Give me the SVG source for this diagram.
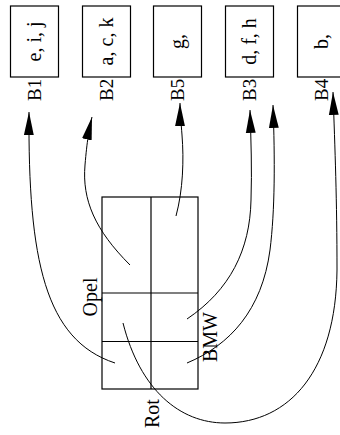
<svg xmlns="http://www.w3.org/2000/svg" width="340" height="435" viewBox="0 0 340 435">
<style>
  .box { fill: #fff; stroke: #000; stroke-width: 1.2; }
  .grid { fill: none; stroke: #000; stroke-width: 1.2; }
  .t { font-family: "Liberation Serif", "Times New Roman", serif; font-size: 20px; fill: #000; }
  .lbl { font-family: "Liberation Serif", "Times New Roman", serif; font-size: 19px; fill: #000; }
  .c { fill: none; stroke: #000; stroke-width: 1; }
</style>
<defs>
  <marker id="ah" markerUnits="userSpaceOnUse" markerWidth="24" markerHeight="12" viewBox="-21 -5 22 10" refX="0" refY="0" orient="auto">
    <path d="M0,0 L-21,-4.5 L-21,4.5 Z" fill="#000"/>
  </marker>
</defs>
<rect width="340" height="435" fill="#fff"/>

<g id="B1">
  <rect class="box" x="10.5" y="6" width="48" height="71"/>
  <text class="t" transform="translate(40.5,41.5) rotate(-90)" text-anchor="middle">e, i, j</text>
  <text class="lbl" transform="translate(40.5,101) rotate(-90)">B1</text>
</g>
<g id="B2">
  <rect class="box" x="82.5" y="6" width="48" height="71"/>
  <text class="t" transform="translate(112.5,41.5) rotate(-90)" text-anchor="middle">a, c, k</text>
  <text class="lbl" transform="translate(112.5,101) rotate(-90)">B2</text>
</g>
<g id="B5">
  <rect class="box" x="153.5" y="6" width="48" height="71"/>
  <text class="t" transform="translate(183.5,41.5) rotate(-90)" text-anchor="middle">g,</text>
  <text class="lbl" transform="translate(183.5,101) rotate(-90)">B5</text>
</g>
<g id="B3">
  <rect class="box" x="225.5" y="6" width="48" height="71"/>
  <text class="t" transform="translate(255.5,41.5) rotate(-90)" text-anchor="middle">d, f, h</text>
  <text class="lbl" transform="translate(255.5,101) rotate(-90)">B3</text>
</g>
<g id="B4">
  <rect class="box" x="297.5" y="6" width="48" height="71"/>
  <text class="t" transform="translate(327.5,41.5) rotate(-90)" text-anchor="middle">b,</text>
  <text class="lbl" transform="translate(327.5,101) rotate(-90)">B4</text>
</g>

<g id="table">
  <rect class="grid" x="102" y="197" width="96" height="192"/>
  <line class="grid" x1="151" y1="197" x2="151" y2="389"/>
  <line class="grid" x1="102" y1="293" x2="198" y2="293"/>
  <line class="grid" x1="102" y1="341.5" x2="198" y2="341.5"/>
  <text class="t" transform="translate(97,297) rotate(-90)" text-anchor="middle">Opel</text>
  <text class="t" transform="translate(217,337) rotate(-90)" text-anchor="middle">BMW</text>
  <text class="t" transform="translate(159,428) rotate(-90)">Rot</text>
</g>

<g id="connectors">
  <path class="c" marker-end="url(#ah)" d="M115,363 C45,340 28,260 29,112"/>
  <path class="c" marker-end="url(#ah)" d="M130,265 C95,230 82,200 85,165 C87,141 89,130 92,117"/>
  <path class="c" marker-end="url(#ah)" d="M176,216 C183,190 184,160 182,135 C181,122 180,112 180,103"/>
  <path class="c" marker-end="url(#ah)" d="M187,319 C230,290 250,250 251,200 C252,170 251,140 250,110"/>
  <path class="c" marker-end="url(#ah)" d="M187,363 C230,345 262,310 270,250 C275,210 275,160 273,105"/>
  <path class="c" marker-end="url(#ah)" d="M123,323 C140,390 180,423 225,423 C290,423 336,370 337,270 C337,200 335,150 333,92"/>
</g>
</svg>
